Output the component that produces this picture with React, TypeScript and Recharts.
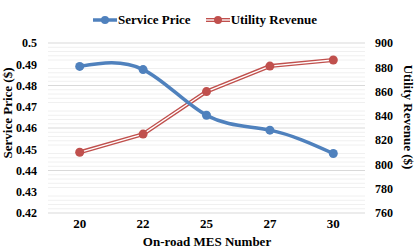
import { ComposedChart, Line, XAxis, YAxis, CartesianGrid, ReferenceLine } from "recharts";

const mesNumbers = ["20", "22", "25", "27", "30"];
const servicePrice = [0.489, 0.4875, 0.466, 0.459, 0.448];
const utilityRevenue = [810, 825, 860, 881, 886];
const priceTicks = [0.42, 0.43, 0.44, 0.45, 0.46, 0.47, 0.48, 0.49, 0.5];
const revenueTicks = [760, 780, 800, 820, 840, 860, 880, 900];
const bandEdges = [0, 1, 2, 3, 4, 5];

const BLUE = "#4f81bd";
const RED = "#c0504d";
const FONT = "'Liberation Serif', 'Times New Roman', serif";

const data = mesNumbers.map((mes, i) => ({
  mes,
  price: servicePrice[i],
  revenue: utilityRevenue[i],
}));

// faint minor gridlines every 0.002 between the major ones
const minorLines = Array.from({ length: 41 }, (_, i) => 0.42 + i * 0.002).filter((_, i) => i % 5 !== 0);

const tickStyle = {
  fill: "#000",
  fontSize: 12,
  fontWeight: 700,
  fontFamily: FONT,
  style: { fontFamily: FONT, fontWeight: 700 },
};

function LegendItem({ color, label, double }: { color: string; label: string; double?: boolean }) {
  return (
    <div style={{ display: "flex", alignItems: "center", marginRight: 15 }}>
      <svg width={24} height={10}>
        <line x1={0} y1={5} x2={24} y2={5} stroke={color} strokeWidth={double ? 4 : 3.5} />
        {double && <line x1={0} y1={5} x2={24} y2={5} stroke="#fff" strokeWidth={1.3} />}
        <circle cx={12} cy={5} r={4} fill={color} />
      </svg>
      <span style={{ fontSize: 13, fontWeight: 700, marginLeft: 1 }}>{label}</span>
    </div>
  );
}

function AxisTitle({ x, y, angle, text }: { x: number; y: number; angle: number; text: string }) {
  return (
    <div style={{ position: "absolute", left: x, top: y, width: 0, height: 0, zIndex: 2 }}>
      <span
        style={{
          position: "absolute",
          left: 0,
          top: 0,
          transform: `translate(-50%, -50%) rotate(${angle}deg)`,
          whiteSpace: "nowrap",
          fontSize: 13,
          fontWeight: 700,
          lineHeight: "13px",
        }}
      >
        {text}
      </span>
    </div>
  );
}

export default function App() {
  return (
    <div
      style={{
        position: "absolute",
        left: 0,
        top: 0,
        width: 415,
        height: 249,
        overflow: "hidden",
        background: "#fff",
        fontFamily: FONT,
        color: "#000",
      }}
    >
      <div
        style={{
          position: "absolute",
          top: 12,
          left: 0,
          width: 415,
          display: "flex",
          justifyContent: "center",
          paddingLeft: 10,
          boxSizing: "border-box",
          zIndex: 1,
        }}
      >
        <LegendItem color={BLUE} label="Service Price" />
        <LegendItem color={RED} label="Utility Revenue" double />
      </div>
      <AxisTitle x={207} y={241} angle={0} text="On-road MES Number" />
      <AxisTitle x={7} y={113} angle={-90} text="Service Price ($)" />
      <AxisTitle x={408} y={117} angle={90} text="Utility Revenue ($)" />
      <ComposedChart
        width={415}
        height={249}
        data={data}
        margin={{ top: 43, right: 0, bottom: 0, left: 0 }}
        style={{ fontFamily: FONT }}
      >
        {minorLines.map((v) => (
          <ReferenceLine key={v} yAxisId="price" y={v} stroke="#f0f0f0" strokeWidth={1} />
        ))}
        <CartesianGrid yAxisId="price" vertical={false} stroke="#d9d9d9" />
        <XAxis
          xAxisId="edges"
          type="number"
          domain={[0, 5]}
          ticks={bandEdges}
          height={0}
          tick={false}
          tickSize={4}
          stroke="#d9d9d9"
        />
        <XAxis
          xAxisId="main"
          dataKey="mes"
          height={36}
          padding={{ left: 31.7, right: 31.7 }}
          axisLine={false}
          tickLine={false}
          tickSize={0}
          tickMargin={6}
          tick={{ ...tickStyle, fontSize: 13 }}
        />
        <YAxis
          yAxisId="price"
          orientation="left"
          width={48}
          domain={[0.42, 0.5]}
          ticks={priceTicks}
          axisLine={false}
          tickLine={false}
          tickSize={0}
          tickMargin={11}
          tick={tickStyle}
        />
        <YAxis
          yAxisId="revenue"
          orientation="right"
          width={50}
          domain={[760, 900]}
          ticks={revenueTicks}
          axisLine={false}
          tickLine={false}
          tickSize={0}
          tickMargin={10}
          tick={tickStyle}
        />
        <Line
          xAxisId="main"
          yAxisId="revenue"
          type="linear"
          dataKey="revenue"
          stroke={RED}
          strokeWidth={4}
          dot={false}
          isAnimationActive={false}
        />
        <Line
          xAxisId="main"
          yAxisId="revenue"
          type="linear"
          dataKey="revenue"
          stroke="#fff"
          strokeWidth={1.3}
          dot={false}
          isAnimationActive={false}
        />
        <Line
          xAxisId="main"
          yAxisId="revenue"
          type="linear"
          dataKey="revenue"
          stroke="none"
          dot={{ r: 4.5, fill: RED, stroke: RED, strokeWidth: 0 }}
          isAnimationActive={false}
        />
        <Line
          xAxisId="main"
          yAxisId="price"
          type="natural"
          dataKey="price"
          stroke={BLUE}
          strokeWidth={3.5}
          dot={{ r: 4.5, fill: BLUE, stroke: BLUE, strokeWidth: 0 }}
          isAnimationActive={false}
        />
      </ComposedChart>
    </div>
  );
}
